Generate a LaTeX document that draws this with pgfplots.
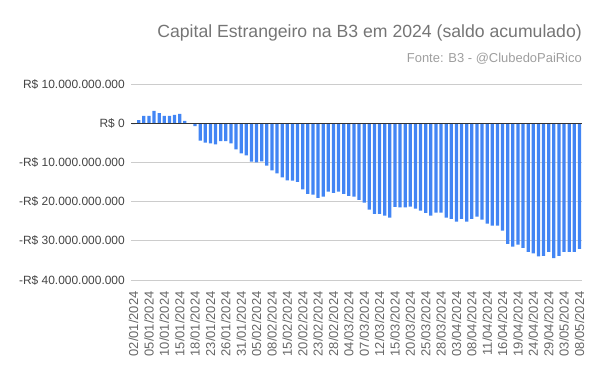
\documentclass[border=0pt]{standalone}
\usepackage{pgfplots}
\pgfplotsset{compat=1.18}
\usepackage{fontspec}
\setmainfont{Liberation Sans}
\definecolor{barblue}{HTML}{4285F4}
\definecolor{titlegray}{HTML}{757575}
\definecolor{subgray}{HTML}{9E9E9E}
\definecolor{ylabgray}{HTML}{444444}
\definecolor{xlabgray}{HTML}{666666}
\definecolor{gridgray}{HTML}{CCCCCC}
\definecolor{zerogray}{HTML}{333333}
\begin{document}
\begin{tikzpicture}[x=1bp,y=1bp]
\path[use as bounding box] (0,0) rectangle (600,371);
\begin{axis}[
  at={(131bp,91bp)}, anchor=south west,
  scale only axis, width=451bp, height=196bp,
  xmin=-0.5, xmax=87.5, ymin=-40, ymax=10,
  ybar, bar width=3.2bp,
  axis line style={draw=none},
  tick style={draw=none},
  ymajorgrids, grid style={color=gridgray, line width=0.8bp},
  ytick={-40,-30,-20,-10,0,10},
  yticklabels={-R\$ 40.000.000.000,-R\$ 30.000.000.000,-R\$ 20.000.000.000,-R\$ 10.000.000.000,R\$ 0,R\$ 10.000.000.000},
  ytick pos=left,
  yticklabel style={font=\fontsize{12}{14}\selectfont, text=ylabgray, inner sep=0pt, anchor=east},
  yticklabel shift=6bp,
  xtick={0,3,...,87},
  xticklabels={02/01/2024,05/01/2024,10/01/2024,15/01/2024,18/01/2024,23/01/2024,26/01/2024,31/01/2024,05/02/2024,08/02/2024,15/02/2024,20/02/2024,23/02/2024,28/02/2024,04/03/2024,07/03/2024,12/03/2024,15/03/2024,20/03/2024,25/03/2024,28/03/2024,03/04/2024,08/04/2024,11/04/2024,16/04/2024,19/04/2024,24/04/2024,29/04/2024,03/05/2024,08/05/2024},
  xtick pos=bottom,
  xticklabel style={font=\fontsize{13}{15}\selectfont, text=xlabgray, inner sep=0pt, rotate=90, anchor=east},
  xticklabel shift=7bp,
]
\addplot[fill=barblue, draw=none] coordinates {
(0,-0.26) (1,0.77) (2,1.87) (3,1.87) (4,3.15) (5,2.56) (6,1.87) (7,1.87) (8,2.13) (9,2.38)
(10,0.6) (11,-0.1) (12,-0.77) (13,-4.45) (14,-4.96) (15,-5.13) (16,-5.4) (17,-4.6) (18,-4.6) (19,-5.13)
(20,-6.7) (21,-7.7) (22,-8.2) (23,-9.83) (24,-10.0) (25,-9.75) (26,-10.8) (27,-12.05) (28,-12.8) (29,-13.8)
(30,-14.6) (31,-14.65) (32,-14.95) (33,-16.9) (34,-18.0) (35,-18.25) (36,-19.05) (37,-18.75) (38,-17.45) (39,-17.75)
(40,-17.45) (41,-18.0) (42,-18.55) (43,-18.75) (44,-19.55) (45,-20.25) (46,-22.05) (47,-23.1) (48,-23.1) (49,-23.6)
(50,-24.1) (51,-21.35) (52,-21.45) (53,-21.5) (54,-21.3) (55,-21.8) (56,-22.3) (57,-22.9) (58,-23.6) (59,-22.8)
(60,-22.8) (61,-24.1) (62,-24.4) (63,-25.1) (64,-24.4) (65,-25.1) (66,-24.4) (67,-23.85) (68,-24.6) (69,-25.6)
(70,-26.15) (71,-26.15) (72,-27.4) (73,-30.8) (74,-31.5) (75,-31.0) (76,-31.8) (77,-32.8) (78,-33.2) (79,-34.0)
(80,-33.85) (81,-32.8) (82,-34.4) (83,-33.85) (84,-32.8) (85,-32.8) (86,-32.8) (87,-32.05)
};
\draw[color=zerogray, line width=1bp] (axis cs:-0.5,0) -- (axis cs:87.5,0);
\end{axis}
\node[anchor=base east, inner sep=0pt, text=titlegray, font=\fontsize{17.7}{20}\selectfont] at (582,334) {Capital Estrangeiro na B3 em 2024 (saldo acumulado)};
\node[anchor=base east, inner sep=0pt, text=subgray, font=\fontsize{13}{15}\selectfont] at (582,309) {Fonte: B3 - @ClubedoPaiRico};
\end{tikzpicture}
\end{document}
